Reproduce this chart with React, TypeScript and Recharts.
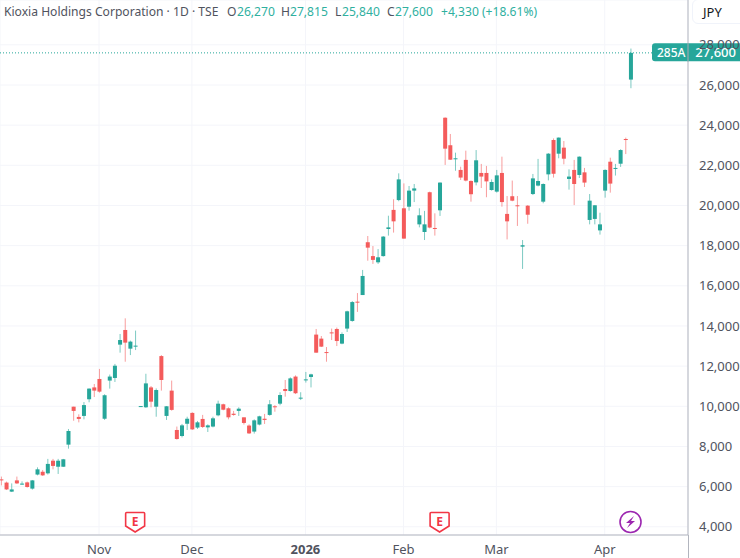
import { Bar, CartesianGrid, ComposedChart, ReferenceDot, ReferenceLine, XAxis, YAxis } from 'recharts';

const opens = [
  6360, 6200, 5750, 6310, 6110, 6210, 5900, 6600, 6740, 6660,
  7290, 6990, 6990, 8090, 9980, 9470, 9520, 10350, 10940, 11360,
  9380, 11280, 11410, 13070, 13800, 12870, 12990, 9980, 9950, 10940,
  9980, 12500, 9520, 10780, 8820, 8520, 9130, 9670, 8940, 9370,
  8950, 8990, 9550, 10100, 9900, 9630, 9770, 9450, 9040, 8740,
  9090, 9380, 9570, 10000, 10130, 10860, 10760, 11480, 10380, 11310,
  11460, 13570, 13370, 12700, 13680, 13850, 13120, 13870, 14250, 15210,
  15540, 18170, 17480, 17170, 17480, 18830, 19780, 20270, 19860, 19940,
  20740, 19060, 18680, 20660, 18880, 19760, 24370, 23000, 22300, 21770,
  22270, 21220, 21150, 21620, 21620, 20770, 20690, 21620, 19580, 20460,
  20010, 17950, 19990, 20570, 20990, 20190, 21550, 23260, 22580, 22880,
  21320, 21770, 21520, 21650, 19280, 19330, 18760, 20740, 22180, 21830,
  22080, 23310, 26270,
];
const highs = [
  6500, 6250, 6160, 6500, 6260, 6250, 6330, 6960, 6830, 7380,
  7380, 7380, 7380, 8870, 9980, 9600, 10210, 10890, 11110, 11860,
  10600, 11580, 12110, 13600, 14380, 13270, 13770, 10010, 11620, 11010,
  10890, 12550, 10010, 11280, 8990, 9120, 9480, 9700, 9270, 9570,
  9100, 9480, 10280, 10130, 9950, 9770, 9950, 9450, 9100, 9350,
  9530, 9620, 10310, 10060, 10700, 11310, 11440, 11540, 10700, 11710,
  11620, 13850, 13500, 12950, 13870, 13920, 13680, 14760, 15240, 15640,
  16790, 18480, 17980, 17830, 18480, 19490, 20310, 21600, 21100, 20970,
  21070, 19860, 19730, 20690, 19610, 21150, 24390, 23560, 22630, 21930,
  22730, 21250, 22760, 22070, 21970, 21300, 21770, 22430, 20470, 21240,
  20470, 18280, 20020, 21570, 22320, 21100, 22610, 23340, 23390, 23210,
  21800, 22270, 22450, 21870, 20570, 20020, 19640, 21800, 22380, 22070,
  22800, 23380, 27815,
];
const lows = [
  6060, 5830, 5730, 6130, 6080, 5950, 5850, 6560, 6530, 6600,
  6860, 6630, 6980, 7890, 9280, 9200, 9350, 10200, 10460, 10680,
  9320, 10880, 11210, 12670, 12220, 12550, 12800, 9980, 9920, 9950,
  9480, 10780, 9320, 9780, 8340, 8450, 8820, 8820, 8870, 8920,
  8720, 8950, 9500, 9800, 9350, 9530, 9520, 9090, 8620, 8640,
  9050, 9120, 9530, 9730, 10050, 10480, 10730, 10610, 10310, 11180,
  10940, 12670, 12950, 12220, 13300, 13000, 13090, 13700, 14210, 14700,
  15540, 17250, 17090, 17090, 17450, 18500, 18650, 20210, 18350, 19740,
  20170, 18910, 18280, 18860, 18500, 19480, 22020, 22270, 21730, 21270,
  21200, 20190, 21000, 20870, 20410, 20740, 20640, 19940, 18310, 20210,
  18980, 16840, 19090, 20520, 20950, 20110, 21250, 21390, 22350, 22050,
  20790, 20020, 21370, 20920, 19060, 19060, 18550, 20390, 20640, 21490,
  21920, 22560, 25840,
];
const closes = [
  6310, 5860, 5860, 6160, 6150, 5980, 6310, 6860, 6560, 7130,
  7030, 7290, 7360, 8770, 9770, 9370, 10060, 10880, 10780, 10730,
  10550, 11480, 12020, 13300, 13170, 13220, 13020, 10010, 11140, 10230,
  10810, 11310, 10000, 9820, 8370, 9050, 9380, 8850, 9200, 8970,
  9050, 9400, 10130, 9830, 9450, 9570, 9880, 9170, 8650, 9300,
  9500, 9320, 10100, 9960, 10560, 10760, 11390, 10650, 10430, 11340,
  11590, 12670, 12970, 12670, 13650, 13250, 13600, 14730, 15190, 15180,
  16490, 17900, 17290, 17420, 18450, 18910, 19210, 21300, 18350, 20740,
  20850, 19510, 19060, 18900, 18850, 21140, 22830, 22280, 22350, 21390,
  21240, 20560, 22250, 21440, 21200, 21170, 21500, 20170, 19210, 20240,
  19970, 18020, 19540, 21350, 21220, 21070, 22580, 21580, 23380, 22330,
  21440, 21070, 22430, 21140, 20240, 20010, 19060, 21770, 21090, 21870,
  22760, 23260, 27600,
];

// bar index of the first session of each month, and its label
const monthTicks = [19, 37, 59, 78, 96, 117];
const monthLabels = ['Nov', 'Dec', '2026', 'Feb', 'Mar', 'Apr'];
const priceTicks = [4000, 6000, 8000, 10000, 12000, 14000, 16000, 18000, 20000, 22000, 24000, 26000, 28000];
const earningsBars = [26, 85];
const dividendBar = 122;
const lastPrice = 27600;
const symbolCode = '285A';

const candles = opens.map((open, i) => ({ i, open, high: highs[i], low: lows[i], close: closes[i] }));

const UP = '#26a69a';
const DOWN = '#f45b5b';
const GRID = '#f4f5fa';
const AXIS = '#b2b5be';
const TEXT = '#50535e';
const HEADER_VALUE = '#2fb09f';
const FONT = '"Noto Sans", sans-serif';
const MARKER_PRICE = 4240;

function Candle(props: any) {
  const { x, y, width, height, payload } = props;
  const up = payload.close >= payload.open;
  const color = up ? UP : DOWN;
  const perUnit = height / (payload.high - payload.low);
  const top = y + (payload.high - Math.max(payload.open, payload.close)) * perUnit;
  const bodyHeight = Math.max(Math.abs(payload.open - payload.close) * perUnit, 1);
  const cx = x + width / 2;
  return (
    <g>
      <line x1={cx} x2={cx} y1={y} y2={y + height} stroke={color} strokeOpacity={0.6} strokeWidth={1} />
      <rect x={x} y={top} width={width} height={bodyHeight} fill={color} />
    </g>
  );
}

function MonthTick(props: any) {
  const { x, y, payload } = props;
  const label = monthLabels[monthTicks.indexOf(payload.value)];
  return (
    <text x={x} y={y + 11} textAnchor="middle" fontFamily={FONT} fontSize={13} fill={TEXT} fontWeight={label === '2026' ? 700 : 400}>
      {label}
    </text>
  );
}

function PriceTag(props: any) {
  const y = props.viewBox.y;
  return (
    <g fontFamily={FONT} fill="#fff" fontWeight={500}>
      <rect x={652} y={y - 9.5} width={92} height={18} rx={3} fill={UP} />
      <line x1={688} x2={688} y1={y - 9.5} y2={y + 8.5} stroke="#1f8c82" />
      <text x={657} y={y + 4.5} fontSize={12}>{symbolCode}</text>
      <text x={736} y={y + 4.5} fontSize={13} textAnchor="end">{lastPrice.toLocaleString('en-US')}</text>
    </g>
  );
}

function EarningsMark(props: any) {
  const { cx, cy } = props;
  return (
    <g>
      <path
        d={`M${cx - 8.5} ${cy - 9.5} h17 a1 1 0 0 1 1 1 v12.5 l-9.5 6 l-9.5 -6 v-12.5 a1 1 0 0 1 1 -1 z`}
        fill="#fff"
        stroke="#f23645"
        strokeWidth={1.6}
      />
      <text x={cx} y={cy + 4.5} textAnchor="middle" fontFamily={FONT} fontSize={12} fontWeight={700} fill="#f23645">E</text>
    </g>
  );
}

function DividendMark(props: any) {
  const { cx, cy } = props;
  return (
    <g>
      <circle cx={cx} cy={cy} r={10.5} fill="#fff" stroke="#9c27b0" strokeWidth={1.6} />
      <path
        d={`M${cx + 3.5} ${cy - 6} L${cx - 4.5} ${cy + 1} L${cx - 0.5} ${cy + 1} L${cx - 3.5} ${cy + 6} L${cx + 4.5} ${cy - 1} L${cx + 0.5} ${cy - 1} z`}
        fill="#9c27b0"
      />
    </g>
  );
}

function HeaderText({ left, color, children }: { left: number; color: string; children: string }) {
  return (
    <span style={{ position: 'absolute', left, top: 3, color, fontFamily: FONT, fontSize: 12.1, lineHeight: '18px', whiteSpace: 'nowrap' }}>
      {children}
    </span>
  );
}

export default function App() {
  return (
    <div style={{ position: 'absolute', left: 0, top: 0, width: 740, height: 558, background: '#fff', overflow: 'hidden' }}>
      <ComposedChart width={740} height={558} data={candles} margin={{ top: 0, right: 0, bottom: 0, left: 0 }}>
        <CartesianGrid stroke={GRID} strokeWidth={1} />
        <XAxis
          dataKey="i"
          type="number"
          domain={[-0.19, 133.14]}
          ticks={monthTicks}
          interval={0}
          height={23}
          axisLine={{ stroke: AXIS }}
          tickLine={false}
          tick={<MonthTick />}
        />
        <YAxis
          orientation="right"
          type="number"
          domain={[3590, 30233]}
          ticks={priceTicks}
          interval={0}
          width={52}
          axisLine={{ stroke: AXIS }}
          tickLine={false}
          tickMargin={5}
          tickFormatter={(v: number) => v.toLocaleString('en-US')}
          tick={{ fontFamily: FONT, fontSize: 13, fill: TEXT }}
        />
        <Bar dataKey={(d: any) => [d.low, d.high]} barSize={4} shape={<Candle />} isAnimationActive={false} />
        <ReferenceLine y={lastPrice} stroke={UP} strokeDasharray="1 2" label={<PriceTag />} />
        {earningsBars.map((bar) => (
          <ReferenceDot key={bar} x={bar} y={MARKER_PRICE} shape={<EarningsMark />} />
        ))}
        <ReferenceDot x={dividendBar} y={MARKER_PRICE} shape={<DividendMark />} />
      </ComposedChart>

      <div style={{ position: 'absolute', left: 688, top: 535, width: 1, height: 23, background: AXIS }} />
      <div
        style={{
          position: 'absolute',
          left: 692,
          top: -1,
          width: 60,
          height: 25,
          boxSizing: 'border-box',
          border: '1px solid #f0f3fa',
          borderRadius: 6,
          background: '#fff',
          color: '#131722',
          fontFamily: FONT,
          fontSize: 13,
          lineHeight: '25px',
          paddingLeft: 10,
        }}
      >
        JPY
      </div>

      <HeaderText left={4} color={TEXT}>Kioxia Holdings Corporation · 1D · TSE</HeaderText>
      <HeaderText left={227} color={TEXT}>O</HeaderText>
      <HeaderText left={237} color={HEADER_VALUE}>26,270</HeaderText>
      <HeaderText left={281} color={TEXT}>H</HeaderText>
      <HeaderText left={290} color={HEADER_VALUE}>27,815</HeaderText>
      <HeaderText left={335} color={TEXT}>L</HeaderText>
      <HeaderText left={342} color={HEADER_VALUE}>25,840</HeaderText>
      <HeaderText left={387} color={TEXT}>C</HeaderText>
      <HeaderText left={395} color={HEADER_VALUE}>27,600</HeaderText>
      <HeaderText left={441} color={HEADER_VALUE}>+4,330 (+18.61%)</HeaderText>
    </div>
  );
}
